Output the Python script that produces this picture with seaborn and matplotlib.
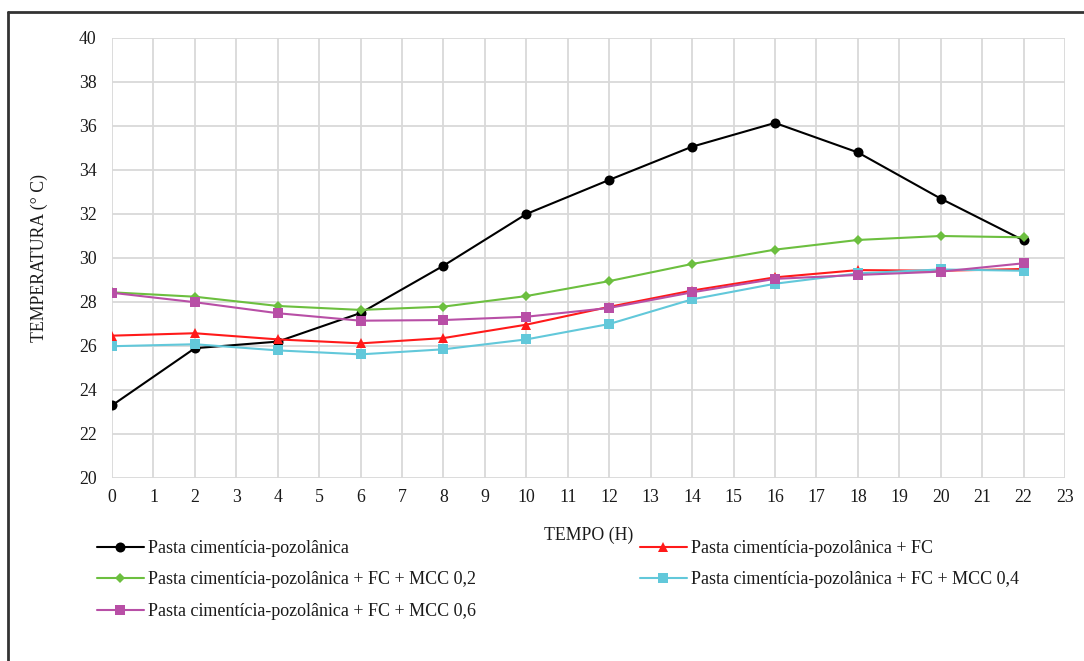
import matplotlib
matplotlib.use("Agg")
import matplotlib.pyplot as plt
from matplotlib.lines import Line2D
import seaborn as sns
import pandas as pd

# ---- data ----
hours = [0, 2, 4, 6, 8, 10, 12, 14, 16, 18, 20, 22]
pasta = [23.3, 25.9, 26.2, 27.5, 29.65, 32.0, 33.55, 35.06, 36.14, 34.8, 32.7, 30.8]
pasta_fc = [26.47, 26.58, 26.3, 26.12, 26.36, 26.97, 27.78, 28.52, 29.12, 29.45, 29.42, 29.5]
pasta_fc_mcc02 = [28.44, 28.24, 27.82, 27.64, 27.79, 28.27, 28.95, 29.73, 30.38, 30.82, 31.0, 30.94]
pasta_fc_mcc04 = [25.99, 26.08, 25.8, 25.62, 25.85, 26.3, 27.0, 28.12, 28.83, 29.3, 29.48, 29.42]
pasta_fc_mcc06 = [28.42, 27.99, 27.49, 27.15, 27.18, 27.33, 27.73, 28.44, 29.05, 29.23, 29.38, 29.76]

series_names = [
    "Pasta cimentícia-pozolânica",
    "Pasta cimentícia-pozolânica + FC",
    "Pasta cimentícia-pozolânica + FC + MCC 0,2",
    "Pasta cimentícia-pozolânica + FC + MCC 0,4",
    "Pasta cimentícia-pozolânica + FC + MCC 0,6",
]
series_values = [pasta, pasta_fc, pasta_fc_mcc02, pasta_fc_mcc04, pasta_fc_mcc06]
colors = ["#000000", "#ff1a1a", "#6cbf3f", "#62c8da", "#b84fa6"]
markers = ["o", "^", "D", "s", "s"]
msizes = [7.2, 7.0, 5.5, 7.0, 7.0]

x_ticks = list(range(0, 24))
y_ticks = list(range(20, 41, 2))

# ---- style ----
sns.set_style("white")
plt.rcParams["font.family"] = ["Liberation Serif", "DejaVu Serif"]

fig = plt.figure(figsize=(10.84, 6.61), dpi=100)
ax = fig.add_axes([112 / 1084, 1 - 478 / 661, (1065 - 112) / 1084, (478 - 38) / 661])

handles = []
for name, vals, c, m, ms in zip(series_names, series_values, colors, markers, msizes):
    df = pd.DataFrame({"TEMPO (H)": hours, "TEMPERATURA": vals})
    sns.lineplot(data=df, x="TEMPO (H)", y="TEMPERATURA", ax=ax, color=c,
                 marker=m, markersize=ms, markeredgewidth=0, linewidth=1.5,
                 label=name, legend=False, zorder=3)
    handles.append(Line2D([0], [0], color=c, marker=m, markersize=ms,
                          markeredgewidth=0, linewidth=1.5))

ax.set_xlim(0, 23)
ax.set_ylim(20, 40)
ax.set_xticks(x_ticks)
ax.set_yticks(y_ticks)
ax.grid(True, color="#d9d9d9", linewidth=1.3)
ax.set_axisbelow(True)
for s in ax.spines.values():
    s.set_visible(False)
ax.tick_params(axis="both", length=0, labelsize=12.8, colors="#1a1a1a")
ax.tick_params(axis="y", pad=11)
ax.tick_params(axis="x", pad=8)

ax.set_xlabel("TEMPO (H)", fontsize=12.8, color="#1a1a1a", labelpad=15)
ax.set_ylabel("TEMPERATURA (° C)", fontsize=12.8, color="#1a1a1a", labelpad=22)

# legends (two columns placed separately)
left_idx = [0, 2, 4]
right_idx = [1, 3]
leg_kw = dict(frameon=False, loc="upper left", fontsize=13, handlelength=2.6,
              handletextpad=0.2, labelspacing=0.8, borderpad=0, borderaxespad=0,
              labelcolor="#1a1a1a")
leg1 = fig.legend([handles[i] for i in left_idx], [series_names[i] for i in left_idx],
                  bbox_to_anchor=(97 / 1084, 1 - 540 / 661), **leg_kw)
leg2 = fig.legend([handles[i] for i in right_idx], [series_names[i] for i in right_idx],
                  bbox_to_anchor=(640 / 1084, 1 - 540 / 661), **leg_kw)

# outer frame (left and top edges visible)
fig.add_artist(Line2D([8 / 1084, 8 / 1084], [0, 1 - 12 / 661], transform=fig.transFigure,
                      color="#333333", linewidth=2))
fig.add_artist(Line2D([8 / 1084, 1], [1 - 12 / 661, 1 - 12 / 661], transform=fig.transFigure,
                      color="#333333", linewidth=2))

fig.savefig("out.png", dpi=100)
